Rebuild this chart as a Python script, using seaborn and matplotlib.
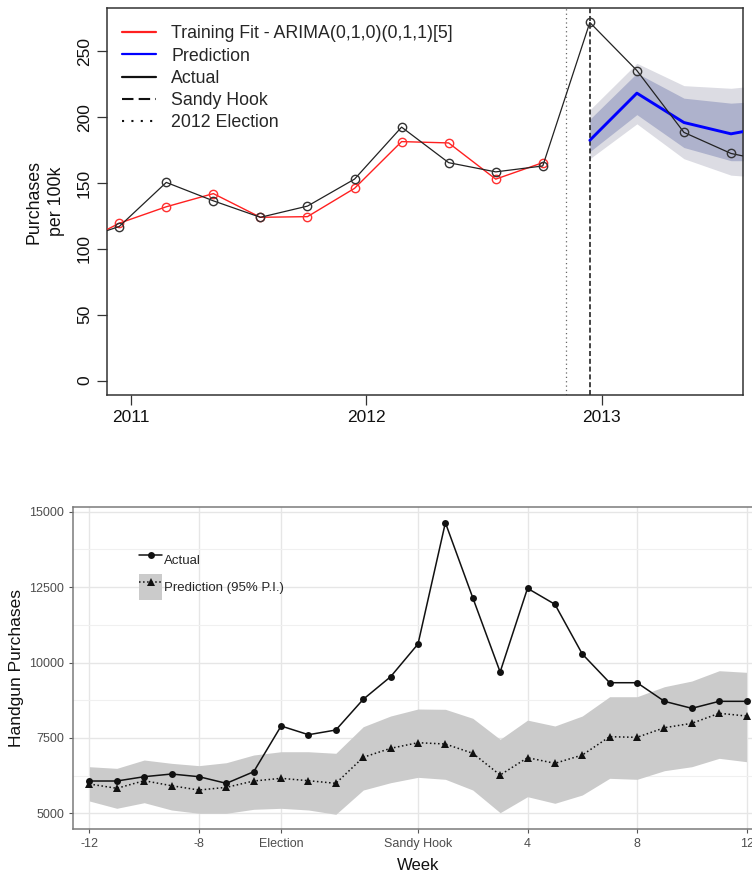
import matplotlib
matplotlib.use("Agg")
import matplotlib.pyplot as plt
import seaborn as sns
import pandas as pd
from matplotlib.lines import Line2D
from matplotlib.patches import Patch
from matplotlib.legend_handler import HandlerTuple

# ---------------- data: top panel (purchases per 100k) ----------------
top_time = [2010.75, 2010.95, 2011.15, 2011.35, 2011.55, 2011.75, 2011.95, 2012.15,
            2012.35, 2012.55, 2012.75, 2012.95, 2013.15, 2013.35, 2013.55, 2013.75]
top_actual = [105, 117, 150.5, 136.5, 124, 132.5, 153, 192.5,
              165.5, 158.5, 163, 272, 235.5, 188.5, 172.5, 165]
fit_time = top_time[:11]
top_fit = [101, 119.5, 132, 142, 124, 124.5, 146, 181.5, 180.5, 153, 165.5]
pred_time = top_time[11:]
pred_mean = [182.5, 218.3, 196, 187.4, 194]
pred_lo80 = [173.9, 202, 177, 167, 167]
pred_hi80 = [198.5, 233.5, 214.5, 210.7, 213]
pred_lo95 = [168.5, 195, 168.5, 156, 153.5]
pred_hi95 = [205.6, 241, 224, 222, 225.5]
election_2012 = 2012.847
sandy_hook = 2012.951
top_yticks = [0, 50, 100, 150, 200, 250]
top_xticks = [2011, 2012, 2013]
top_legend = ["Training Fit - ARIMA(0,1,0)(0,1,1)[5]", "Prediction", "Actual",
              "Sandy Hook", "2012 Election"]

# ---------------- data: bottom panel (weekly handgun purchases) ----------------
weeks = list(range(-12, 13))
actual_b = [6071, 6071, 6214, 6303, 6214, 5994, 6379, 7895,
            7606, 7762, 8780, 9529, 10613, 14635, 12149, 9685,
            12460, 11930, 10282, 9330, 9330, 8713, 8481, 8713, 8713]
pred_b = [5971, 5829, 6081, 5915, 5772, 5861, 6071, 6160,
          6081, 5994, 6857, 7155, 7341, 7298, 6990, 6270,
          6845, 6657, 6933, 7540, 7519, 7838, 7984, 8316, 8226]
upper_b = [6545, 6491, 6767, 6657, 6580, 6678, 6933, 7042,
           7042, 6990, 7871, 8226, 8458, 8448, 8150, 7453,
           8090, 7895, 8226, 8866, 8866, 9198, 9386, 9728, 9675]
lower_b = [5408, 5166, 5352, 5110, 5000, 5000, 5133, 5166,
           5110, 4967, 5772, 6015, 6193, 6127, 5772, 5020,
           5551, 5332, 5607, 6160, 6127, 6413, 6545, 6823, 6711]
bottom_xticks = [-12, -8, -5, 0, 4, 8, 12]
bottom_xlabels = ["-12", "-8", "Election", "Sandy Hook", "4", "8", "12"]
bottom_yticks = [5000, 7500, 10000, 12500, 15000]
bottom_legend = ["Actual", "Prediction (95% P.I.)"]

sns.set_theme(style="white")
plt.rcParams["font.family"] = ["Liberation Sans", "DejaVu Sans"]

fig = plt.figure(figsize=(7.52, 8.72), dpi=100)
W, H = 752, 872

# ================= TOP PANEL =================
ax1 = fig.add_axes([107 / W, 1 - 395 / H, 636 / W, 387 / H])
df_act = pd.DataFrame({"t": top_time, "v": top_actual})
df_fit = pd.DataFrame({"t": fit_time, "v": top_fit})
df_pred = pd.DataFrame({"t": pred_time, "v": pred_mean})

ax1.fill_between(pred_time, pred_lo95, pred_hi95, color="#dcdce3", lw=0, zorder=1)
ax1.fill_between(pred_time, pred_lo80, pred_hi80, color="#aeb2cc", lw=0, zorder=1.5)
sns.lineplot(data=df_pred, x="t", y="v", ax=ax1, color="#0000ff", lw=2.1, zorder=3)
sns.lineplot(data=df_fit, x="t", y="v", ax=ax1, color="#ff2020", lw=1.0,
             marker="o", markersize=6, markerfacecolor="none",
             markeredgecolor="#ff3030", markeredgewidth=1.0, zorder=4)
sns.lineplot(data=df_act, x="t", y="v", ax=ax1, color="#222222", lw=0.9,
             marker="o", markersize=6, markerfacecolor="none",
             markeredgecolor="#333333", markeredgewidth=1.0, zorder=5)
ax1.axvline(election_2012, color="#666666", lw=0.9, dashes=(1, 2.5), zorder=2)
ax1.axvline(sandy_hook, color="#111111", lw=1.1, dashes=(3.3, 1.8), zorder=2)

ax1.set_xlim(2010.898, 2013.601)
ax1.set_ylim(-11, 283)
ax1.set_xticks(top_xticks)
ax1.set_xticklabels([str(v) for v in top_xticks])
ax1.set_yticks(top_yticks)
ax1.set_yticklabels([str(v) for v in top_yticks], rotation=90, va="center")
ax1.tick_params(axis="both", direction="out", length=7.2, width=0.9, color="#333333",
                labelsize=12.5, labelcolor="#111111", pad=3.6, bottom=True, left=True)
ax1.set_xlabel("")
ax1.set_ylabel("Purchases\nper 100k", fontsize=12.8, color="#111111", linespacing=1.4)
ax1.yaxis.set_label_coords(-0.066, 0.5)
for s in ax1.spines.values():
    s.set_color("#333333")
    s.set_linewidth(1.1)

top_handles = [
    Line2D([0], [0], color="#ff2020", lw=1.6),
    Line2D([0], [0], color="#0000ff", lw=1.6),
    Line2D([0], [0], color="#111111", lw=1.6),
    Line2D([0], [0], color="#111111", lw=1.5, dashes=(5.5, 2.5)),
    Line2D([0], [0], color="#111111", lw=1.5, dashes=(1, 3.5)),
]
ax1.legend(top_handles, top_legend, loc="upper left", bbox_to_anchor=(0.0236, 0.955),
           frameon=False, fontsize=12.8, handlelength=1.9, handletextpad=0.86,
           labelspacing=0.29, borderpad=0, borderaxespad=0)

# ================= BOTTOM PANEL =================
ax2 = fig.add_axes([73 / W, 1 - 829 / H, 690 / W, 322 / H])
df_b = pd.DataFrame({"week": weeks, "actual": actual_b, "pred": pred_b})

ax2.set_xlim(-12.6, 12.6)
ax2.set_ylim(4480, 15156)
ax2.set_xticks(bottom_xticks)
ax2.set_xticklabels(bottom_xlabels)
ax2.set_yticks(bottom_yticks)
ax2.set_yticklabels([str(v) for v in bottom_yticks])
ax2.set_yticks([6250, 8750, 11250, 13750], minor=True)
ax2.grid(True, which="major", color="#e6e6e6", lw=1.0, zorder=0)
ax2.grid(True, which="minor", axis="y", color="#f0f0f0", lw=0.8, zorder=0)
ax2.set_axisbelow(True)

ax2.fill_between(weeks, lower_b, upper_b, color="#cbcbcb", lw=0, zorder=1)
sns.lineplot(data=df_b, x="week", y="pred", ax=ax2, color="#111111", lw=1.1,
             linestyle=":", marker="^", markersize=6, markeredgewidth=0,
             markerfacecolor="#111111", zorder=3)
sns.lineplot(data=df_b, x="week", y="actual", ax=ax2, color="#111111", lw=1.1,
             marker="o", markersize=5, markeredgewidth=0,
             markerfacecolor="#111111", zorder=4)

ax2.tick_params(axis="both", which="major", direction="out", length=2.75, width=0.8,
                color="#555555", labelsize=9, labelcolor="#4d4d4d", pad=3.5,
                bottom=True, left=True)
ax2.tick_params(axis="both", which="minor", length=0)
ax2.set_xlabel("Week", fontsize=12, color="#111111", labelpad=6)
ax2.set_ylabel("Handgun Purchases", fontsize=12.5, color="#111111", labelpad=3.5)
for s in ax2.spines.values():
    s.set_color("#7a7a7a")
    s.set_linewidth(1.1)

bot_handles = [
    Line2D([0], [0], color="#111111", lw=1.1, marker="o", markersize=5,
           markeredgewidth=0),
    (Patch(facecolor="#cbcbcb", edgecolor="none"),
     Line2D([0], [0], color="#111111", lw=1.1, linestyle=":", marker="^",
            markersize=6, markeredgewidth=0)),
]
ax2.legend(bot_handles, bottom_legend, loc="upper left", bbox_to_anchor=(0.0957, 0.877),
           frameon=False, fontsize=9.5, handlelength=1.75, handleheight=2.76,
           handletextpad=0.15, labelspacing=0.0, borderpad=0, borderaxespad=0,
           handler_map={tuple: HandlerTuple(ndivide=1, pad=0)})

fig.savefig("out.png", dpi=100)
